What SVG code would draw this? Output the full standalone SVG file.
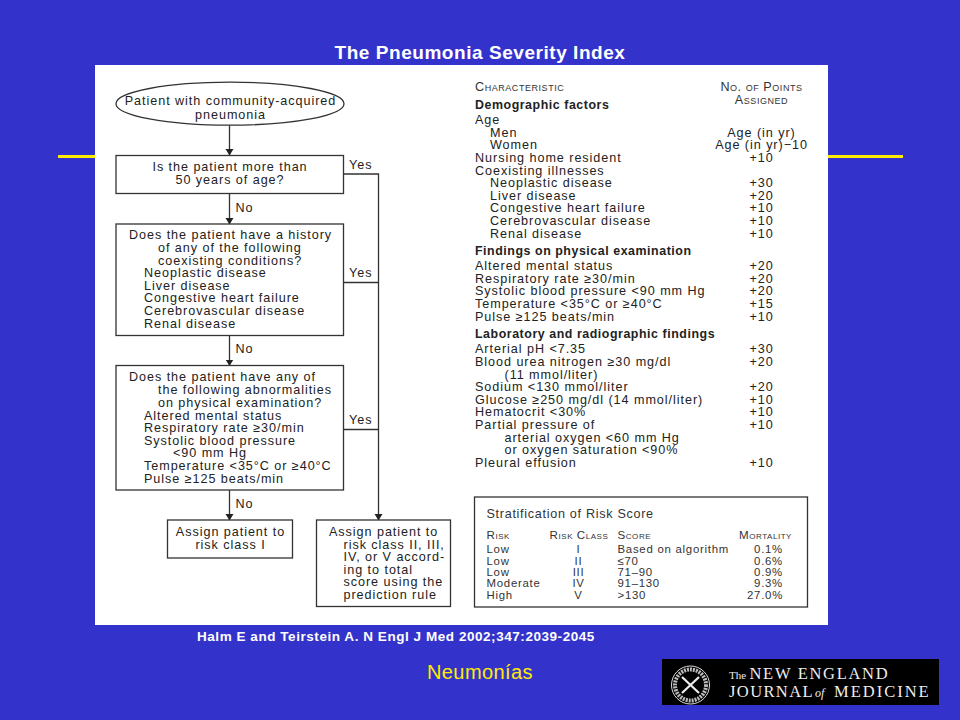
<svg xmlns="http://www.w3.org/2000/svg" width="960" height="720" viewBox="0 0 960 720">
<style>
text{font-family:"Liberation Sans",Arial,sans-serif}
.t{font-size:12.600px;fill:#222;letter-spacing:.95px}
.st{font-size:12.600px;fill:#333;letter-spacing:.7px}
.c{text-anchor:middle}
.b{font-weight:bold;font-size:12.400px;letter-spacing:.55px}
.sc{font-variant:small-caps;font-size:12.600px;fill:#333;letter-spacing:.55px}
.s{font-size:11.400px;fill:#333;letter-spacing:.74px}
.h{font-variant:small-caps;font-size:11.600px;fill:#333;letter-spacing:.55px}
.box{fill:#fff;stroke:#333;stroke-width:1.300}
.ln{fill:none;stroke:#333;stroke-width:1.300}
.w{font-family:"Liberation Serif",serif;fill:#eee}
</style>
<defs>
<marker id="ah" markerUnits="userSpaceOnUse" markerWidth="7" markerHeight="9" refX="6" refY="4" orient="auto"><path d="M0,0L6.500,4L0,8z" fill="#222"/></marker>
</defs>
<rect width="960" height="720" fill="#3333cc"/>
<g id="rules"><path d="M58,156.500H96M827,156.500H903" stroke="#ffec00" stroke-width="3" fill="none"/></g>
<rect id="panel" x="95" y="65" width="733" height="560" fill="#fff"/>
<text id="title" x="480" y="59" class="c" font-size="19" font-weight="bold" fill="#fff" letter-spacing=".55">The Pneumonia Severity Index</text>
<g id="connectors">
<path class="ln" marker-end="url(#ah)" d="M229.500,125V155"/>
<path class="ln" marker-end="url(#ah)" d="M229.500,193.500V224"/>
<path class="ln" marker-end="url(#ah)" d="M229.500,335.500V365.500"/>
<path class="ln" marker-end="url(#ah)" d="M229.500,490V520"/>
<path class="ln" marker-end="url(#ah)" d="M343.500,174H378.500V520"/>
<path class="ln" d="M343.500,282.500H378.500M343.500,429.500H378.500"/>
<text class="t" x="349" y="169">Yes</text>
<text class="t" x="349" y="276.500">Yes</text>
<text class="t" x="349" y="423.500">Yes</text>
<text class="t" x="235.500" y="212">No</text>
<text class="t" x="235.500" y="353">No</text>
<text class="t" x="235.500" y="508">No</text>
</g>
<g id="start"><ellipse class="box" cx="230" cy="103.700" rx="114" ry="21.500"/>
<text class="t c" x="230.500" y="105">Patient with community-acquired</text>
<text class="t c" x="230.500" y="118.500">pneumonia</text></g>
<g id="q1"><rect class="box" x="116" y="155.500" width="227.500" height="38"/>
<text class="t c" x="230" y="171">Is the patient more than</text>
<text class="t c" x="230" y="184">50 years of age?</text></g>
<g id="q2"><rect class="box" x="116" y="224" width="227.500" height="111.500"/>
<text class="t" x="129" y="239">Does the patient have a history</text>
<text class="t" x="158" y="252">of any of the following</text>
<text class="t" x="158" y="264.500">coexisting conditions?</text>
<text class="t" x="144" y="277">Neoplastic disease</text>
<text class="t" x="144" y="289.500">Liver disease</text>
<text class="t" x="144" y="302">Congestive heart failure</text>
<text class="t" x="144" y="314.500">Cerebrovascular disease</text>
<text class="t" x="144" y="327.500">Renal disease</text></g>
<g id="q3"><rect class="box" x="116" y="365.500" width="227.500" height="124.500"/>
<text class="t" x="129" y="381">Does the patient have any of</text>
<text class="t" x="158" y="394">the following abnormalities</text>
<text class="t" x="158" y="406.500">on physical examination?</text>
<text class="t" x="144" y="419.500">Altered mental status</text>
<text class="t" x="144" y="432">Respiratory rate ≥30/min</text>
<text class="t" x="144" y="444.500">Systolic blood pressure</text>
<text class="t" x="173" y="457">&lt;90 mm Hg</text>
<text class="t" x="144" y="470">Temperature &lt;35°C or ≥40°C</text>
<text class="t" x="144" y="482.500">Pulse ≥125 beats/min</text></g>
<g id="class1"><rect class="box" x="167.500" y="520" width="125" height="38"/>
<text class="t c" x="230.500" y="536">Assign patient to</text>
<text class="t c" x="230.500" y="548.500">risk class I</text></g>
<g id="class2"><rect class="box" x="316.500" y="520" width="134" height="86.500"/>
<text class="t" x="329" y="536">Assign patient to</text>
<text class="t" x="343.500" y="548.500">risk class II, III,</text>
<text class="t" x="343.500" y="561">IV, or V accord-</text>
<text class="t" x="343.500" y="573.500">ing to total</text>
<text class="t" x="343.500" y="586">score using the</text>
<text class="t" x="343.500" y="598.500">prediction rule</text></g>
<g id="table">
<text class="sc" x="475" y="91">Characteristic</text>
<text class="sc c" x="761.500" y="91">No. of Points</text>
<text class="sc c" x="761.500" y="104">Assigned</text>
<text class="t b" x="475" y="109">Demographic factors</text>
<text class="t" x="475" y="124">Age</text>
<text class="t" x="490" y="136.500">Men</text><text class="t c" x="761.500" y="136.500">Age (in yr)</text>
<text class="t" x="490" y="149">Women</text><text class="t c" x="761.500" y="149">Age (in yr)−10</text>
<text class="t" x="475" y="162">Nursing home resident</text><text class="t c" x="761.500" y="162">+10</text>
<text class="t" x="475" y="174.500">Coexisting illnesses</text>
<text class="t" x="490" y="187">Neoplastic disease</text><text class="t c" x="761.500" y="187">+30</text>
<text class="t" x="490" y="199.500">Liver disease</text><text class="t c" x="761.500" y="199.500">+20</text>
<text class="t" x="490" y="212">Congestive heart failure</text><text class="t c" x="761.500" y="212">+10</text>
<text class="t" x="490" y="225">Cerebrovascular disease</text><text class="t c" x="761.500" y="225">+10</text>
<text class="t" x="490" y="237.500">Renal disease</text><text class="t c" x="761.500" y="237.500">+10</text>
<text class="t b" x="475" y="255">Findings on physical examination</text>
<text class="t" x="475" y="270">Altered mental status</text><text class="t c" x="761.500" y="270">+20</text>
<text class="t" x="475" y="282.500">Respiratory rate ≥30/min</text><text class="t c" x="761.500" y="282.500">+20</text>
<text class="t" x="475" y="295">Systolic blood pressure &lt;90 mm Hg</text><text class="t c" x="761.500" y="295">+20</text>
<text class="t" x="475" y="308">Temperature &lt;35°C or ≥40°C</text><text class="t c" x="761.500" y="308">+15</text>
<text class="t" x="475" y="320.500">Pulse ≥125 beats/min</text><text class="t c" x="761.500" y="320.500">+10</text>
<text class="t b" x="475" y="338">Laboratory and radiographic findings</text>
<text class="t" x="475" y="353">Arterial pH &lt;7.35</text><text class="t c" x="761.500" y="353">+30</text>
<text class="t" x="475" y="366">Blood urea nitrogen ≥30 mg/dl</text><text class="t c" x="761.500" y="366">+20</text>
<text class="t" x="504.500" y="378.500">(11 mmol/liter)</text>
<text class="t" x="475" y="391">Sodium &lt;130 mmol/liter</text><text class="t c" x="761.500" y="391">+20</text>
<text class="t" x="475" y="403.500">Glucose ≥250 mg/dl (14 mmol/liter)</text><text class="t c" x="761.500" y="403.500">+10</text>
<text class="t" x="475" y="416">Hematocrit &lt;30%</text><text class="t c" x="761.500" y="416">+10</text>
<text class="t" x="475" y="429">Partial pressure of</text><text class="t c" x="761.500" y="429">+10</text>
<text class="t" x="504.500" y="441.500">arterial oxygen &lt;60 mm Hg</text>
<text class="t" x="504.500" y="454">or oxygen saturation &lt;90%</text>
<text class="t" x="475" y="466.500">Pleural effusion</text><text class="t c" x="761.500" y="466.500">+10</text>
</g>
<g id="stratification">
<rect class="box" x="474.500" y="497" width="333" height="110" stroke-width="1.500"/>
<text class="st" x="486.500" y="517.500">Stratification of Risk Score</text>
<text class="h" x="486.500" y="539">Risk</text><text class="h c" x="579" y="539">Risk Class</text><text class="h" x="617.500" y="539">Score</text><text class="h" x="739" y="539">Mortality</text>
<text class="s" x="486.500" y="553">Low</text><text class="s c" x="578.500" y="553">I</text><text class="s" x="617.500" y="553">Based on algorithm</text><text class="s" text-anchor="end" x="783" y="553">0.1%</text>
<text class="s" x="486.500" y="564.500">Low</text><text class="s c" x="578.500" y="564.500">II</text><text class="s" x="617.500" y="564.500">≤70</text><text class="s" text-anchor="end" x="783" y="564.500">0.6%</text>
<text class="s" x="486.500" y="575.500">Low</text><text class="s c" x="578.500" y="575.500">III</text><text class="s" x="617.500" y="575.500">71–90</text><text class="s" text-anchor="end" x="783" y="575.500">0.9%</text>
<text class="s" x="486.500" y="587">Moderate</text><text class="s c" x="578.500" y="587">IV</text><text class="s" x="617.500" y="587">91–130</text><text class="s" text-anchor="end" x="783" y="587">9.3%</text>
<text class="s" x="486.500" y="598.500">High</text><text class="s c" x="578.500" y="598.500">V</text><text class="s" x="617.500" y="598.500">&gt;130</text><text class="s" text-anchor="end" x="783" y="598.500">27.0%</text>
</g>
<text id="citation" x="197" y="641" font-size="13.500" font-weight="bold" fill="#fff" letter-spacing=".55">Halm E and Teirstein A. N Engl J Med 2002;347:2039-2045</text>
<text id="footer" x="427" y="678.500" font-size="20" fill="#ffec00" letter-spacing=".4">Neumonías</text>
<g id="logo">
<rect x="662" y="659" width="277" height="46" fill="#000"/>
<circle cx="690.500" cy="685" r="19" fill="none" stroke="#ddd" stroke-width="1"/>
<circle cx="690.500" cy="685" r="15.500" fill="none" stroke="#bbb" stroke-width="4" stroke-dasharray="2 1"/>
<path d="M682,677L699,693M699,677L682,693" stroke="#eee" stroke-width="2.200"/>
<text class="w" x="729" y="679.300" font-size="11">The</text>
<text class="w" x="749.500" y="679.300" font-size="16.500" letter-spacing="1.700">NEW ENGLAND</text>
<text class="w" x="729" y="696.700" font-size="16.500" letter-spacing="1.400">JOURNAL</text>
<text class="w" x="815" y="696.700" font-size="12" font-style="italic">of</text>
<text class="w" x="834" y="696.700" font-size="16.500" letter-spacing="2">MEDICINE</text>
</g>
</svg>
